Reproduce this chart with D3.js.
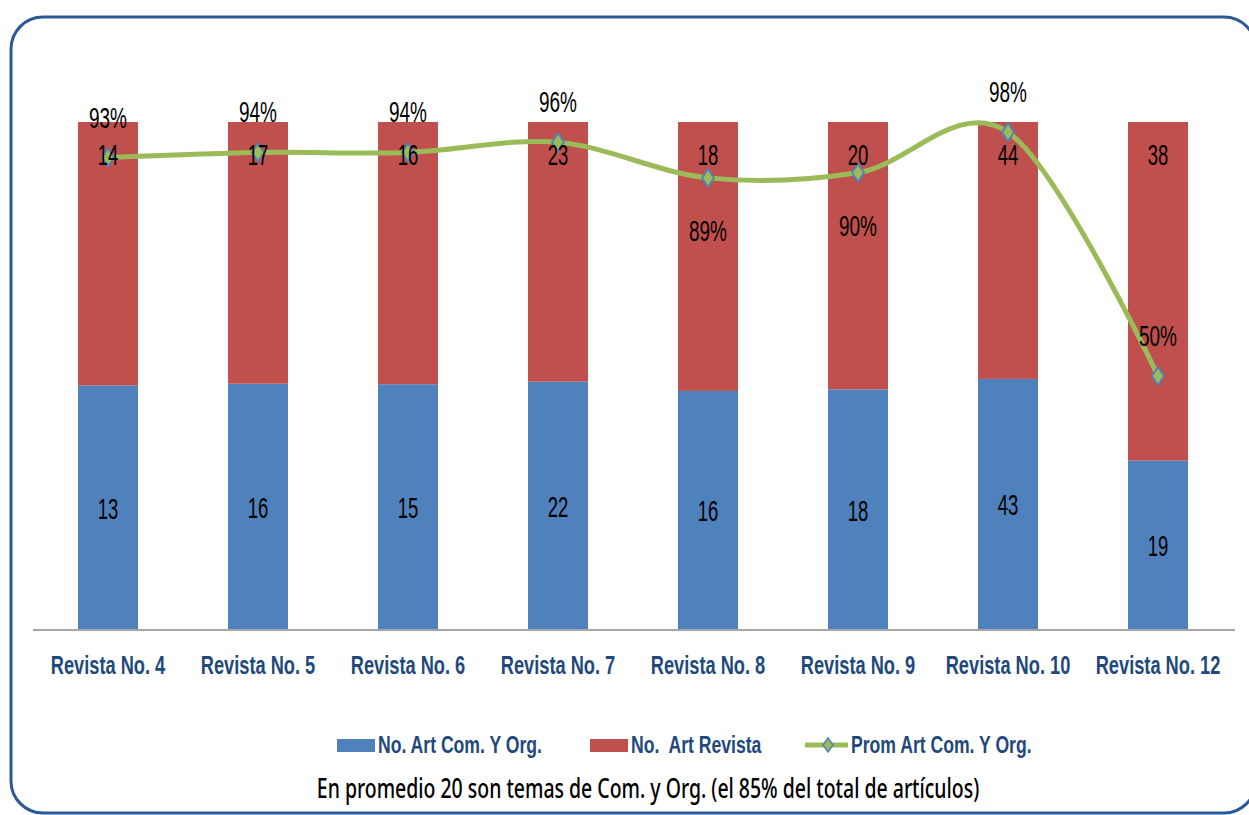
<!DOCTYPE html>
<html>
<head>
<meta charset="utf-8">
<script src="https://cdn.jsdelivr.net/npm/d3@7"></script>
<style>
  html, body { margin: 0; padding: 0; background: #fff; }
  svg { display: block; }
</style>
</head>
<body>
<svg id="chart" width="1249" height="815"></svg>
<script>
const categories = ['Revista No. 4', 'Revista No. 5', 'Revista No. 6', 'Revista No. 7',
  'Revista No. 8', 'Revista No. 9', 'Revista No. 10', 'Revista No. 12'];
const artComOrg = [13, 16, 15, 22, 16, 18, 43, 19];
const artRevista = [14, 17, 16, 23, 18, 20, 44, 38];
const promComOrg = [0.93, 0.94, 0.94, 0.96, 0.89, 0.90, 0.98, 0.50];
const seriesNames = ['No. Art Com. Y Org.', 'No.  Art Revista', 'Prom Art Com. Y Org.'];
const note = 'En promedio 20 son temas de Com. y Org. (el 85% del total de artículos)';

// where the percent labels sit relative to their marker
const pctSide = ['above', 'above', 'above', 'above', 'below', 'below', 'above', 'above'];

const colors = { blue: '#4F81BD', red: '#C0504D', green: '#9BBB59', axisText: '#1F497D' };

const svg = d3.select('#chart');

// rounded frame
svg.append('rect')
  .attr('x', 11).attr('y', 17)
  .attr('width', 1245).attr('height', 796)
  .attr('rx', 32).attr('ry', 32)
  .attr('fill', '#fff')
  .attr('stroke', '#2A5A94')
  .attr('stroke-width', 3);

const x = d3.scaleBand()
  .domain(categories)
  .range([33, 1233])
  .paddingInner(0.6)
  .paddingOuter(0.3);

const y = d3.scaleLinear().domain([0, 1]).range([630, 122]);

const rows = categories.map((c, i) => ({ cat: c, com: artComOrg[i], rev: artRevista[i] }));
const stack = d3.stack().keys(['com', 'rev']).offset(d3.stackOffsetExpand);
const layers = stack(rows);

svg.append('g')
  .selectAll('g')
  .data(layers)
  .join('g')
  .attr('fill', d => (d.key === 'com' ? colors.blue : colors.red))
  .selectAll('rect')
  .data(d => d)
  .join('rect')
  .attr('x', d => x(d.data.cat))
  .attr('width', x.bandwidth())
  .attr('y', d => y(d[1]))
  .attr('height', d => y(d[0]) - y(d[1]));

// category axis
svg.append('line')
  .attr('x1', 33).attr('x2', 1235)
  .attr('y1', y(0)).attr('y2', y(0))
  .attr('stroke', '#A6A6A6')
  .attr('stroke-width', 2);

// squeezed, slightly tall text (the original is a narrow face stretched upward)
function addText(parent, px, py, txt, size, sx, sy, opts = {}) {
  return parent.append('text')
    .attr('transform', `translate(${px},${py}) scale(${sx},${sy})`)
    .attr('text-anchor', opts.anchor || 'middle')
    .attr('font-family', opts.family || 'Liberation Sans, Arial, sans-serif')
    .attr('font-size', size)
    .attr('font-weight', opts.weight || 'normal')
    .attr('fill', opts.fill || '#000')
    .style('white-space', 'pre')
    .text(txt);
}

const gAxis = svg.append('g');
categories.forEach(c => {
  addText(gAxis, x(c) + x.bandwidth() / 2, 674, c, 24, 0.76, 1.1, { weight: 'bold', fill: colors.axisText });
});

// smoothed line for the percentage series
const pts = categories.map((c, i) => [x(c) + x.bandwidth() / 2, y(promComOrg[i])]);

svg.append('path')
  .datum(pts)
  .attr('fill', 'none')
  .attr('stroke', colors.green)
  .attr('stroke-width', 5)
  .attr('stroke-linecap', 'round')
  .attr('d', d3.line().curve(d3.curveCatmullRom.alpha(0)));

const diamond = (w, h) => `M0,${-h}L${w},0L0,${h}L${-w},0Z`;

svg.append('g')
  .selectAll('path')
  .data(pts)
  .join('path')
  .attr('transform', d => `translate(${d[0]},${d[1]})`)
  .attr('d', diamond(6, 9))
  .attr('fill', colors.green)
  .attr('stroke', colors.blue)
  .attr('stroke-width', 1.8);

// data labels
const gLabels = svg.append('g');
layers.forEach(layer => {
  layer.forEach(d => {
    const cx = x(d.data.cat) + x.bandwidth() / 2;
    if (layer.key === 'com') {
      addText(gLabels, cx, (y(d[0]) + y(d[1])) / 2 + 11, d.data.com, 25, 0.74, 1.18);
    } else {
      addText(gLabels, cx, y(d[1]) + 43, d.data.rev, 25, 0.74, 1.18);
    }
  });
});

pts.forEach((p, i) => {
  const dy = pctSide[i] === 'above' ? -30 : 63;
  addText(gLabels, p[0], p[1] + dy, d3.format('.0%')(promComOrg[i]), 25, 0.76, 1.18);
});

// legend
const gLegend = svg.append('g');
gLegend.append('rect').attr('x', 337).attr('y', 739).attr('width', 38).attr('height', 13).attr('fill', colors.blue);
addText(gLegend, 378, 753, seriesNames[0], 22, 0.8, 1.12, { anchor: 'start', weight: 'bold', fill: colors.axisText });
gLegend.append('rect').attr('x', 590).attr('y', 739).attr('width', 38).attr('height', 13).attr('fill', colors.red);
addText(gLegend, 631, 753, seriesNames[1], 22, 0.8, 1.12, { anchor: 'start', weight: 'bold', fill: colors.axisText });
gLegend.append('line')
  .attr('x1', 805).attr('x2', 848).attr('y1', 745).attr('y2', 745)
  .attr('stroke', colors.green).attr('stroke-width', 5);
gLegend.append('path')
  .attr('transform', 'translate(828,745)')
  .attr('d', diamond(5, 7))
  .attr('fill', colors.green)
  .attr('stroke', colors.blue)
  .attr('stroke-width', 1.5);
addText(gLegend, 851, 753, seriesNames[2], 22, 0.8, 1.12, { anchor: 'start', weight: 'bold', fill: colors.axisText });

// note under the legend, squeezed to the width it has in the original
const noteText = addText(svg, 648, 798, note, 27, 1, 1, {
  family: 'Noto Sans, Open Sans, sans-serif', weight: 500
});
const natural = noteText.node().getComputedTextLength();
noteText.attr('transform', `translate(648,798) scale(${663 / natural},1)`);
</script>
</body>
</html>
